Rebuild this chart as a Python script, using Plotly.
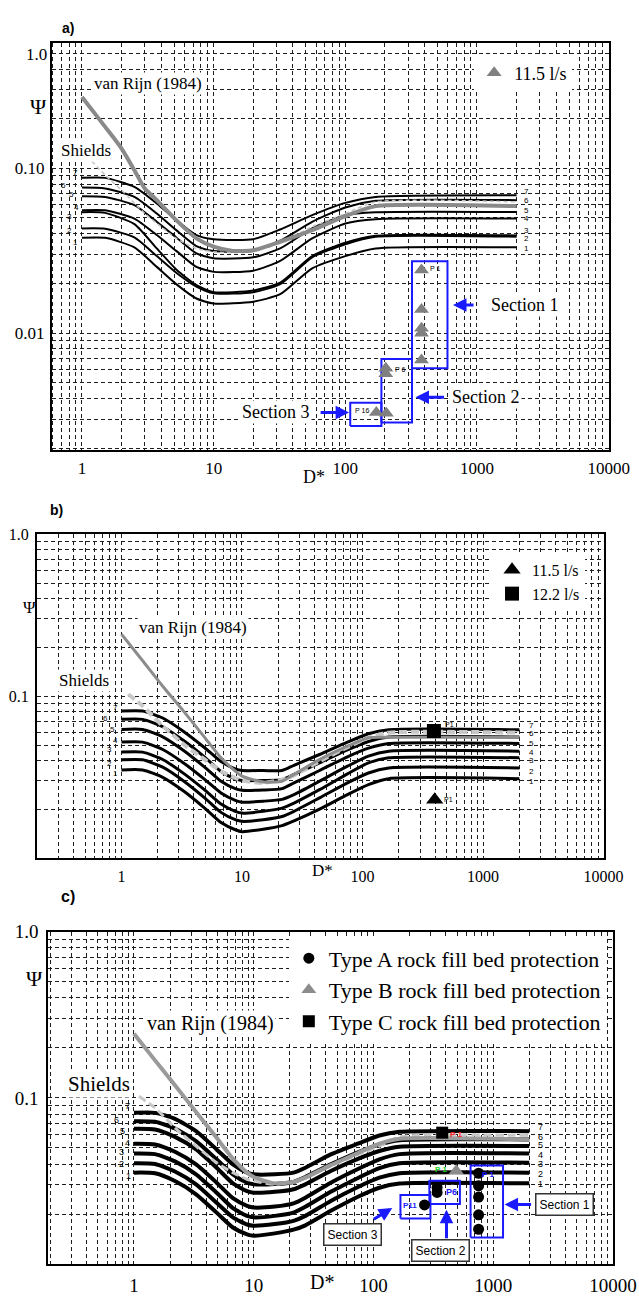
import math
import plotly.graph_objects as go

# ---------------- Panel a data (D*, Psi) ----------------
A_D = [1, 1.5, 2.5, 3.7, 5.2, 7.4, 10, 20, 32, 56, 100, 170, 2000]
A_C7 = [0.0874, 0.0874, 0.0771, 0.0611, 0.0484, 0.0393, 0.0371, 0.0371, 0.0425, 0.0519, 0.0616, 0.0670, 0.0686]
A_C6 = [0.0763, 0.0753, 0.0670, 0.0531, 0.0421, 0.0337, 0.0315, 0.0315, 0.0363, 0.0473, 0.0578, 0.0634, 0.0640]
A_C5 = [0.0677, 0.0670, 0.0597, 0.0473, 0.0380, 0.0304, 0.0284, 0.0288, 0.0326, 0.0431, 0.0519, 0.0541, 0.0543]
A_C4 = [0.0556, 0.0556, 0.0495, 0.0393, 0.0315, 0.0252, 0.0235, 0.0239, 0.0274, 0.0375, 0.0462, 0.0491, 0.0495]
A_C3 = [0.0541, 0.0536, 0.0458, 0.0326, 0.0243, 0.0195, 0.0177, 0.0181, 0.0202, 0.0293, 0.0353, 0.0389, 0.0391]
A_C2 = [0.0431, 0.0429, 0.0380, 0.0293, 0.0232, 0.0191, 0.0174, 0.0177, 0.0198, 0.0288, 0.0346, 0.0384, 0.0384]
A_C1 = [0.0378, 0.0378, 0.0331, 0.0252, 0.0198, 0.0162, 0.0151, 0.0155, 0.0172, 0.0247, 0.0293, 0.0326, 0.0331]
A_VR_D = [1, 1.5, 2, 2.5, 3, 3.7, 5.2, 7.4, 10, 14, 20, 32, 56, 100, 170, 2000]
A_VR = [0.2704, 0.1782, 0.1316, 0.0973, 0.0753, 0.0640, 0.0484, 0.0375, 0.0334, 0.0315, 0.0318, 0.0358, 0.0421, 0.0512, 0.0589, 0.0589]
A_SH_D = [1.19, 1.5, 2, 3, 4, 5.2, 7.4, 10, 15, 20, 32, 56, 100, 170, 2000]
A_SH = [0.1102, 0.0907, 0.0736, 0.0531, 0.0441, 0.0375, 0.0326, 0.0311, 0.0307, 0.0311, 0.0353, 0.0441, 0.0531, 0.0625, 0.0625]
A_TRI_D = [379, 379, 379, 379, 379, 203, 203, 172, 205]
A_TRI_PSI = [0.0241, 0.0139, 0.01067, 0.00995, 0.00686, 0.00611, 0.00565, 0.00329, 0.00326]
# sections: (D from, D to, Psi from, Psi to)
A_SEC1 = [321, 597, 0.00611, 0.0273]
A_SEC2 = [188, 321, 0.00286, 0.00695]
A_SEC3 = [109, 188, 0.00273, 0.00378]

# ---------------- Panel b data ----------------
B_D = [1, 1.5, 2.2, 3.3, 4.9, 6.7, 8.8, 10, 15, 21.5, 27, 44, 75, 112, 165, 2000]
B_C7 = [0.0811, 0.0811, 0.0734, 0.0604, 0.0481, 0.0395, 0.0356, 0.0348, 0.0348, 0.0348, 0.0375, 0.0437, 0.0521, 0.0587, 0.0621, 0.0621]
B_C6 = [0.0720, 0.0720, 0.0648, 0.0531, 0.0421, 0.0343, 0.0309, 0.0302, 0.0302, 0.0305, 0.0329, 0.0388, 0.0467, 0.0526, 0.0560, 0.0560]
B_C5 = [0.0624, 0.0624, 0.0562, 0.0461, 0.0365, 0.0299, 0.0269, 0.0263, 0.0264, 0.0269, 0.0292, 0.0348, 0.0423, 0.0478, 0.0511, 0.0511]
B_C4 = [0.0521, 0.0521, 0.0469, 0.0386, 0.0307, 0.0253, 0.0228, 0.0222, 0.0225, 0.0231, 0.0247, 0.0299, 0.0370, 0.0427, 0.0458, 0.0458]
B_C3 = [0.0452, 0.0452, 0.0407, 0.0333, 0.0264, 0.0216, 0.0195, 0.0190, 0.0195, 0.0204, 0.0219, 0.0265, 0.0332, 0.0388, 0.0417, 0.0417]
B_C2 = [0.0405, 0.0405, 0.0365, 0.0299, 0.0236, 0.0192, 0.0173, 0.0169, 0.0173, 0.0181, 0.0195, 0.0236, 0.0292, 0.0336, 0.0361, 0.0361]
B_C1 = [0.0351, 0.0351, 0.0316, 0.0259, 0.0204, 0.0166, 0.0150, 0.0146, 0.0151, 0.0159, 0.0170, 0.0201, 0.0247, 0.0285, 0.0310, 0.0310]
B_VR = [0.242, 0.1655, 0.1153, 0.0804, 0.0557, 0.0417, 0.0345, 0.0321, 0.0296, 0.0299, 0.0329, 0.0407, 0.0492, 0.0555, 0.0559, 0.0559]
B_SH_D = [1.14, 1.5, 2.2, 3.3, 4.9, 6.7, 8.8, 10, 15, 21.5, 27, 44, 75, 112, 165, 2000]
B_SH = [0.1028, 0.0871, 0.0655, 0.0504, 0.0407, 0.0345, 0.0313, 0.0302, 0.0292, 0.0306, 0.0325, 0.0397, 0.0485, 0.0555, 0.0596, 0.0596]
B_TRI = [397, 0.0230]
B_SQ = [391, 0.0610]

# ---------------- Panel c data ----------------
C_D = [1, 1.5, 2.2, 3.3, 4.9, 6.7, 8.8, 10, 15, 21.5, 27, 44, 75, 112, 165, 2000]
C_C7 = [0.0813, 0.0813, 0.0748, 0.0631, 0.0490, 0.0398, 0.0355, 0.0347, 0.0347, 0.0355, 0.0380, 0.0457, 0.0532, 0.0594, 0.0625, 0.0631]
C_C6 = [0.0724, 0.0718, 0.0655, 0.0550, 0.0427, 0.0347, 0.0309, 0.0302, 0.0303, 0.0312, 0.0334, 0.0398, 0.0472, 0.0525, 0.0557, 0.0562]
C_C5 = [0.0652, 0.0646, 0.0583, 0.0490, 0.0380, 0.0306, 0.0275, 0.0269, 0.0272, 0.0282, 0.0302, 0.0363, 0.0431, 0.0479, 0.0508, 0.0513]
C_C4 = [0.0530, 0.0525, 0.0474, 0.0398, 0.0309, 0.0249, 0.0224, 0.0219, 0.0222, 0.0232, 0.0251, 0.0309, 0.0375, 0.0427, 0.0459, 0.0463]
C_C3 = [0.0463, 0.0459, 0.0415, 0.0347, 0.0269, 0.0217, 0.0195, 0.0191, 0.0195, 0.0204, 0.0221, 0.0272, 0.0331, 0.0378, 0.0404, 0.0407]
C_C2 = [0.0404, 0.0400, 0.0361, 0.0302, 0.0234, 0.0191, 0.0173, 0.0170, 0.0174, 0.0182, 0.0195, 0.0240, 0.0292, 0.0331, 0.0352, 0.0355]
C_C1 = [0.0355, 0.0352, 0.0316, 0.0263, 0.0204, 0.0166, 0.0151, 0.0148, 0.0153, 0.0161, 0.0171, 0.0209, 0.0255, 0.0288, 0.0305, 0.0306]
C_VR = [0.2432, 0.1683, 0.1191, 0.0824, 0.0575, 0.0431, 0.0355, 0.0334, 0.0306, 0.0312, 0.0331, 0.0394, 0.0468, 0.0530, 0.0568, 0.0562]
C_SH_D = [1.1, 1.5, 2.2, 3.3, 4.9, 6.7, 8.8, 10, 15, 21.5, 27, 44, 75, 112, 165, 2000]
C_SH = [0.1023, 0.0871, 0.0661, 0.0513, 0.0407, 0.0355, 0.0324, 0.0316, 0.0302, 0.0312, 0.0330, 0.0389, 0.0457, 0.0513, 0.0583, 0.0594]
C_A_D = [755, 755, 755, 755, 755, 340, 340, 267]
C_A_PSI = [0.0352, 0.0296, 0.0253, 0.0198, 0.0162, 0.0289, 0.0270, 0.0227]
C_B = [491, 0.0365]
C_C = [375, 0.0618]
C_SEC1 = [647, 1208, 0.01445, 0.0392]
C_SEC2 = [293, 527, 0.0230, 0.0317]
C_SEC3 = [168, 299, 0.0188, 0.0260]

X_LABELS = {1: "1", 10: "10", 100: "100", 1000: "1000", 10000: "10000"}

SERIF = "Liberation Serif"
SANS = "Liberation Sans"
BLUE = "#1a1aff"

fig = go.Figure()


def add_line(D, P, xa, ya, color, width, dash="solid", smooth=True):
    fig.add_trace(go.Scatter(
        x=D, y=P, mode="lines", xaxis=xa, yaxis=ya, showlegend=False, hoverinfo="skip",
        line=dict(color=color, width=width, dash=dash,
                  shape="spline" if smooth else "linear", smoothing=0.6)))


def add_box(sec, xa, ya):
    d0, d1, p0, p1 = sec
    fig.add_trace(go.Scatter(
        x=[d0, d1, d1, d0, d0], y=[p0, p0, p1, p1, p0], mode="lines",
        xaxis=xa, yaxis=ya, showlegend=False, hoverinfo="skip",
        line=dict(color=BLUE, width=2)))


# ---- Panel a traces ----
for c in [A_C1, A_C2, A_C3, A_C4, A_C5, A_C6, A_C7]:
    add_line(A_D, c, "x", "y", "black", 2)
add_line(A_SH_D, A_SH, "x", "y", "#c4c4c4", 1.5, dash="4px,3px")
add_line(A_VR_D, A_VR, "x", "y", "#8a8a8a", 4)
for s in [A_SEC1, A_SEC2, A_SEC3]:
    add_box(s, "x", "y")
fig.add_trace(go.Scatter(x=A_TRI_D, y=A_TRI_PSI, mode="markers", xaxis="x", yaxis="y",
                         name="11.5 l/s", legend="legend",
                         marker=dict(symbol="triangle-up", size=13, color="#808080")))

# ---- Panel b traces ----
for c in [B_C1, B_C2, B_C3, B_C4, B_C5, B_C6, B_C7]:
    add_line(B_D, c, "x2", "y2", "black", 3)
add_line(B_SH_D, B_SH, "x2", "y2", "#c8c8c8", 4, dash="8px,4px")
add_line(B_D, B_VR, "x2", "y2", "#8c8c8c", 3)
fig.add_trace(go.Scatter(x=[B_TRI[0]], y=[B_TRI[1]], mode="markers", xaxis="x2", yaxis="y2",
                         name="11.5 l/s", legend="legend2",
                         marker=dict(symbol="triangle-up", size=15, color="black")))
fig.add_trace(go.Scatter(x=[B_SQ[0]], y=[B_SQ[1]], mode="markers", xaxis="x2", yaxis="y2",
                         name="12.2 l/s", legend="legend2",
                         marker=dict(symbol="square", size=14, color="black")))

# ---- Panel c traces ----
for c in [C_C1, C_C2, C_C3, C_C4, C_C5, C_C6, C_C7]:
    add_line(C_D, c, "x3", "y3", "black", 4)
add_line(C_SH_D, C_SH, "x3", "y3", "#c8c8c8", 3, dash="8px,4px")
add_line(C_D, C_VR, "x3", "y3", "#9a9a9a", 4)
for s in [C_SEC1, C_SEC2, C_SEC3]:
    add_box(s, "x3", "y3")
fig.add_trace(go.Scatter(x=C_A_D, y=C_A_PSI, mode="markers", xaxis="x3", yaxis="y3",
                         name="Type A rock fill bed protection", legend="legend3",
                         marker=dict(symbol="circle", size=11, color="black")))
fig.add_trace(go.Scatter(x=[C_B[0]], y=[C_B[1]], mode="markers", xaxis="x3", yaxis="y3",
                         name="Type B rock fill bed protection", legend="legend3",
                         marker=dict(symbol="triangle-up", size=13, color="#8c8c8c")))
fig.add_trace(go.Scatter(x=[C_C[0]], y=[C_C[1]], mode="markers", xaxis="x3", yaxis="y3",
                         name="Type C rock fill bed protection", legend="legend3",
                         marker=dict(symbol="square", size=12, color="black")))


# ---- axes ----
def log_ticks(lo, hi, labels):
    vals, text = [], []
    for n in range(lo, hi + 1):
        for k in range(1, 10):
            v = k * 10 ** n
            vals.append(v)
            text.append(labels.get(v, ""))
    return vals, text


def axis(domain, rng, labels, lo, hi, fs, anchor, standoff):
    tv, tt = log_ticks(lo, hi, labels)
    return dict(type="log", domain=domain, range=rng, tickvals=tv, ticktext=tt,
                showgrid=True, gridcolor="#1e1e1e", griddash="4px,3px", gridwidth=0.8,
                showline=True, mirror=True, linecolor="black", linewidth=1.5,
                ticks="", ticklen=0, zeroline=False, anchor=anchor, ticklabelstandoff=standoff,
                automargin=False,
                tickfont=dict(family=SERIF, size=fs, color="black"))


fig.update_layout(
    template="none",
    width=639, height=1301, margin=dict(l=0, r=0, t=0, b=0, pad=0, autoexpand=False),
    paper_bgcolor="white", plot_bgcolor="white",
    xaxis=axis([0.0809, 0.9531], [-0.23, 4.003], X_LABELS, -1, 4, 17, "y", 2),
    yaxis=axis([0.6541, 0.9667], [-2.71, -0.242], {0.1: "0.10", 0.01: "0.01"}, -3, 0, 17, "x", 2),
    xaxis2=axis([0.0574, 0.9452], [-0.703, 4.003], X_LABELS, -1, 4, 16, "y2", 3),
    yaxis2=axis([0.3403, 0.5895], [-2.0, 0.001], {1: "1.0", 0.1: "0.1"}, -3, 0, 16, "x2", 3),
    xaxis3=axis([0.0753, 0.9598], [-0.717, 4.003], X_LABELS, -1, 4, 19, "y3", 3),
    yaxis3=axis([0.0284, 0.2839], [-2.0, 0.001], {1: "1.0", 0.1: "0.1"}, -3, 0, 19, "x3", 4),
    legend=dict(x=0.742, y=0.958, xanchor="left", yanchor="top", bgcolor="white",
                font=dict(family=SERIF, size=18, color="black"), itemsizing="trace"),
    legend2=dict(x=0.77, y=0.575, xanchor="left", yanchor="top", bgcolor="white",
                 font=dict(family=SERIF, size=16, color="black"), itemsizing="trace"),
    legend3=dict(x=0.452, y=0.2795, xanchor="left", yanchor="top", bgcolor="white",
                 font=dict(family=SERIF, size=22, color="black"), itemsizing="trace",
                 tracegroupgap=0),
)

ann = []


def txt(x, y, text, size, xref, yref, family=SERIF, color="black", bg=None, **kw):
    d = dict(x=x, y=y, text=text, xref=xref, yref=yref, showarrow=False,
             font=dict(family=family, size=size, color=color))
    if bg:
        d["bgcolor"] = bg
    d.update(kw)
    ann.append(d)


def arrow(x, y, ax, ay, xref, yref, width=3):
    ann.append(dict(x=x, y=y, ax=ax, ay=ay, xref=xref, yref=yref, axref="pixel", ayref="pixel",
                    text="", showarrow=True, arrowhead=2, arrowsize=0.9, arrowwidth=width,
                    arrowcolor=BLUE, standoff=0, startstandoff=0))


# panel labels, axis symbols
txt(0.0939, 0.9862, "<b>a)</b>", 14, "paper", "paper", family=SANS)
txt(0.0751, 0.608, "<b>b)</b>", 14, "paper", "paper", family=SANS)
txt(0.0923, 0.3028, "<b>c)</b>", 16, "paper", "paper", family=SANS)
txt(0.0438, 0.9293, "Ψ", 22, "paper", "paper")
txt(0.0329, 0.5334, "Ψ", 17, "paper", "paper")
txt(0.0383, 0.2368, "Ψ", 22, "paper", "paper")
txt(0.4914, 0.6334, "D*", 18, "paper", "paper")
txt(0.504, 0.3220, "D*", 17, "paper", "paper")
txt(0.504, 0.0046, "D*", 20, "paper", "paper")
txt(0.0767, 0.9667, "1.0", 17, "paper", "paper", xanchor="right")

# curve names
txt(0.501, -0.485, "van Rijn (1984)", 17, "x", "y", bg="white")
txt(0.03, -0.891, "Shields", 17, "x", "y", bg="white")
txt(0.592, -0.574, "van Rijn (1984)", 17, "x2", "y2", bg="white")
txt(-0.313, -0.905, "Shields", 17, "x2", "y2", bg="white")
txt(0.638, -0.55, "van Rijn (1984)", 20, "x3", "y3", bg="white")
txt(-0.294, -0.914, "Shields", 21, "x3", "y3", bg="white")

# curve numbers
A_LEFT = [(-0.046, -1.453), (-0.091, -1.376), (-0.091, -1.295), (-0.038, -1.236),
          (-0.083, -1.158), (-0.144, -1.107), (-0.046, -1.026)]
A_RIGHT = [-1.487, -1.426, -1.376, -1.307, -1.259, -1.198, -1.144]
B_LEFT = [(-0.051, -1.477), (-0.095, -1.415), (-0.102, -1.331), (-0.051, -1.273),
          (-0.078, -1.205), (-0.136, -1.138), (-0.051, -1.070)]
B_RIGHT = [-1.529, -1.463, -1.397, -1.345, -1.293, -1.231, -1.180]
C_LEFT = [(-0.044, -1.47), (-0.102, -1.40), (-0.102, -1.326), (-0.051, -1.27),
          (-0.096, -1.20), (-0.147, -1.134), (-0.055, -1.05)]
C_RIGHT = [-1.516, -1.456, -1.40, -1.342, -1.286, -1.234, -1.174]
for i in range(7):
    n = str(i + 1)
    txt(A_LEFT[i][0], A_LEFT[i][1], n, 8, "x", "y", family=SANS)
    txt(3.375, A_RIGHT[i], n, 8, "x", "y", family=SANS)
    txt(B_LEFT[i][0], B_LEFT[i][1], n, 8, "x2", "y2", family=SANS)
    txt(3.401, B_RIGHT[i], n, 8, "x2", "y2", family=SANS)
    txt(C_LEFT[i][0], C_LEFT[i][1], n, 9, "x3", "y3", family=SANS)
    txt(3.392, C_RIGHT[i], n, 9, "x3", "y3", family=SANS)

# panel a section annotations
txt(2.679, -1.608, "P 1", 7, "x", "y", family=SANS)
txt(2.414, -2.220, "P 6", 7, "x", "y", family=SANS)
txt(2.123, -2.473, "P 16", 7, "x", "y", family=SANS)
txt(3.362, -1.830, "Section 1", 18, "x", "y", bg="white")
txt(3.072, -2.390, "Section 2", 18, "x", "y", bg="white")
txt(1.472, -2.481, "Section 3", 18, "x", "y", bg="white")
arrow(2.818, -1.830, 22, 0, "x", "y")
arrow(2.533, -2.390, 30, 0, "x", "y")
arrow(2.029, -2.483, -30, 0, "x", "y")

# panel b point labels
txt(2.721, -1.174, "P1", 7, "x2", "y2", family=SANS)
txt(2.711, -1.638, "P1", 7, "x2", "y2", family=SANS)

# panel c point / section labels
txt(2.691, -1.222, "<b>P 1</b>", 8, "x3", "y3", family=SANS, color="#ff2020")
txt(2.565, -1.429, "<b>P 1</b>", 8, "x3", "y3", family=SANS, color="#20d020")
txt(2.957, -1.462, "<b>P 1</b>", 8, "x3", "y3", family=SANS, color=BLUE)
txt(2.649, -1.569, "<b>P6</b>", 9, "x3", "y3", family=SANS, color=BLUE)
txt(2.308, -1.645, "<b>P11</b>", 8, "x3", "y3", family=SANS, color=BLUE)
for (x, y, t) in [(3.593, -1.642, "Section 1"), (2.564, -1.920, "Section 2"), (1.822, -1.824, "Section 3")]:
    txt(x, y, t, 12, "x3", "y3", family=SANS, bg="white", bordercolor="#333", borderwidth=1.5, borderpad=3)
arrow(3.095, -1.642, 28, 0, "x3", "y3")
arrow(2.610, -1.673, 0, 30, "x3", "y3")
arrow(2.157, -1.663, -20, 12, "x3", "y3")

fig.update_layout(annotations=ann)
fig.write_html("out.html",
               config={"displayModeBar": False},
               post_script="document.body.style.margin='0px';document.body.style.padding='0px';"
                           "document.body.style.overflow='hidden';")
